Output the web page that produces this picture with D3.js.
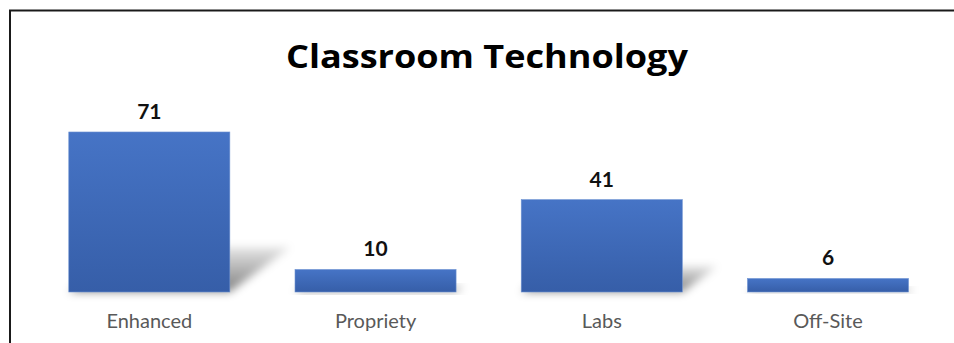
<!DOCTYPE html>
<html>
<head>
<meta charset="utf-8">
<script src="https://cdn.jsdelivr.net/npm/d3@7/dist/d3.min.js"></script>
<style>
  html, body { margin: 0; padding: 0; background: #ffffff; }
  svg { display: block; }
</style>
</head>
<body>
<svg id="chart" width="954" height="343"></svg>
<script>
// Classroom technology counts by category
const categories = ["Enhanced", "Propriety", "Labs", "Off-Site"];
const counts = [71, 10, 41, 6];
const chartTitle = "Classroom Technology";

const W = 954, H = 343;
const svg = d3.select("#chart");

const x = d3.scaleBand()
  .domain(categories)
  .range([36.2, 941.1])
  .paddingInner(0.288)
  .paddingOuter(0.144);

const y = d3.scaleLinear()
  .domain([0, 80])
  .range([292, 111.7]);

const defs = svg.append("defs");

// bar fill: lighter blue at the top, deeper blue at the base
const barGrad = defs.append("linearGradient")
  .attr("id", "barGrad").attr("x1", 0).attr("y1", 0).attr("x2", 0).attr("y2", 1);
barGrad.append("stop").attr("offset", "0%").attr("stop-color", "#4674c6");
barGrad.append("stop").attr("offset", "100%").attr("stop-color", "#365ea8");

// perspective shadow fades as it leans away from the bar
const shadowGrad = defs.append("linearGradient")
  .attr("id", "shadowGrad").attr("x1", 0).attr("y1", 1).attr("x2", 0).attr("y2", 0);
shadowGrad.append("stop").attr("offset", "0%").attr("stop-color", "#000").attr("stop-opacity", 0.5);
shadowGrad.append("stop").attr("offset", "100%").attr("stop-color", "#000").attr("stop-opacity", 0.1);

const blur = defs.append("filter").attr("id", "soft")
  .attr("x", "-30%").attr("y", "-40%").attr("width", "160%").attr("height", "180%");
blur.append("feGaussianBlur").attr("stdDeviation", 4.5);

// chart frame (left and top edges)
svg.append("path")
  .attr("d", `M10,${H} L10,10.5 L${W},10.5`)
  .attr("fill", "none")
  .attr("stroke", "#1a1a1a")
  .attr("stroke-width", 2);

// title
svg.append("text")
  .attr("x", 487)
  .attr("y", 68.3)
  .attr("text-anchor", "middle")
  .attr("font-family", "'Open Sans', Lato, sans-serif")
  .attr("font-weight", "bold")
  .attr("font-size", 33)
  .attr("textLength", 402)
  .attr("lengthAdjust", "spacingAndGlyphs")
  .attr("fill", "#000")
  .text(chartTitle);

const data = categories.map((c, i) => ({ cat: c, v: counts[i] }));
const base = y(0);
const squash = 0.28, lean = 1.35;

// shadows
svg.append("g").selectAll("path")
  .data(data)
  .join("path")
  .attr("d", d => {
    const x0 = x(d.cat), x1 = x(d.cat) + x.bandwidth();
    const h = (base - y(d.v)) * squash;
    const dx = h * lean;
    return `M${x0},${base} L${x1},${base} L${x1 + dx},${base - h} L${x0 + dx},${base - h} Z`;
  })
  .attr("fill", "url(#shadowGrad)")
  .attr("filter", "url(#soft)");

// bars
svg.append("g").selectAll("rect")
  .data(data)
  .join("rect")
  .attr("x", d => x(d.cat))
  .attr("y", d => y(d.v))
  .attr("width", x.bandwidth())
  .attr("height", d => base - y(d.v))
  .attr("fill", "url(#barGrad)")
  .attr("stroke", "#6f93d2")
  .attr("stroke-width", 0.6);

// value labels
svg.append("g").selectAll("text")
  .data(data)
  .join("text")
  .attr("x", d => x(d.cat) + x.bandwidth() / 2)
  .attr("y", d => y(d.v) - 13)
  .attr("text-anchor", "middle")
  .attr("font-family", "Lato, 'Open Sans', sans-serif")
  .attr("font-weight", "bold")
  .attr("font-size", 21)
  .attr("fill", "#111")
  .text(d => d.v);

// category axis labels
const axis = d3.axisBottom(x).tickSize(0).tickPadding(0);
const gx = svg.append("g")
  .attr("transform", `translate(0,${base})`)
  .call(axis);
gx.select(".domain").remove();
gx.selectAll("text")
  .attr("dy", null)
  .attr("y", 36.3)
  .attr("font-family", "Lato, 'Open Sans', sans-serif")
  .attr("font-size", 20)
  .attr("fill", "#595959");
</script>
</body>
</html>
